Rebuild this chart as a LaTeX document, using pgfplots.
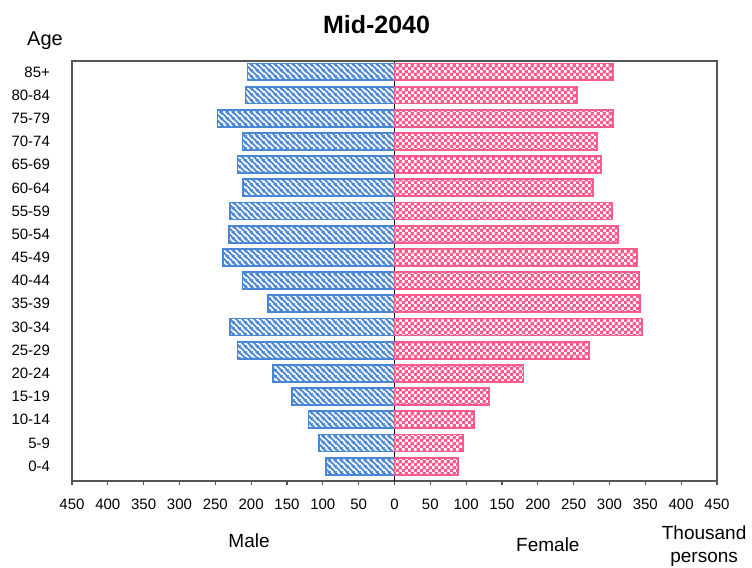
\documentclass[border=0pt]{standalone}
\usepackage{fontspec}
\setmainfont{Liberation Sans}
\usepackage{pgfplots}
\pgfplotsset{compat=1.18}
\usetikzlibrary{patterns}
\definecolor{mblue}{RGB}{74,134,214}
\definecolor{fpink}{RGB}{252,92,140}
\definecolor{axgray}{RGB}{85,85,85}
\pgfdeclarepatternformonly{mystripes}{\pgfqpoint{0pt}{0pt}}{\pgfqpoint{3pt}{3pt}}{\pgfqpoint{3pt}{3pt}}{%
  \pgfsetlinewidth{1.05pt}%
  \pgfpathmoveto{\pgfqpoint{-0.5pt}{3.5pt}}\pgfpathlineto{\pgfqpoint{3.5pt}{-0.5pt}}%
  \pgfpathmoveto{\pgfqpoint{-0.8pt}{0.8pt}}\pgfpathlineto{\pgfqpoint{0.8pt}{-0.8pt}}%
  \pgfpathmoveto{\pgfqpoint{2.2pt}{3.8pt}}\pgfpathlineto{\pgfqpoint{3.8pt}{2.2pt}}%
  \pgfusepath{stroke}}
\pgfdeclarepatternformonly{mychecker}{\pgfqpoint{0pt}{0pt}}{\pgfqpoint{3pt}{3pt}}{\pgfqpoint{3pt}{3pt}}{%
  \pgfpathrectangle{\pgfqpoint{0pt}{0pt}}{\pgfqpoint{1.85pt}{1.85pt}}%
  \pgfpathrectangle{\pgfqpoint{1.5pt}{1.5pt}}{\pgfqpoint{1.85pt}{1.85pt}}%
  \pgfpathrectangle{\pgfqpoint{1.5pt}{-1.5pt}}{\pgfqpoint{0.35pt}{3pt}}%
  \pgfpathrectangle{\pgfqpoint{-1.5pt}{1.5pt}}{\pgfqpoint{3pt}{0.35pt}}%
  \pgfusepath{fill}}
\pgfplotstableread{
y male female
0 -96 89
1 -105 96
2 -120 111
3 -143 132
4 -169 180
5 -219 271
6 -229 345
7 -177 343
8 -212 341
9 -239 338
10 -231 312
11 -229 303
12 -211 277
13 -219 288
14 -212 283
15 -247 305
16 -208 255
17 -205 305
}\pyr
\begin{document}
\begin{tikzpicture}
\begin{axis}[
  scale only axis,
  width=322.5pt, height=210pt,
  xmin=-450, xmax=450,
  ymin=-0.64, ymax=17.47,
  xbar, bar width=0.73, bar shift=0pt,
  axis line style={axgray, line width=0.7pt},
  xtick={-450,-400,...,450},
  xtick pos=bottom,
  xtick align=outside,
  major tick length=2pt,
  tick style={axgray, line width=0.6pt},
  xticklabel={\pgfmathparse{abs(\tick)}\pgfmathprintnumber[assume math mode=true,fixed,precision=0]{\pgfmathresult}},
  xticklabel style={font=\fontsize{7.5}{9}\selectfont, yshift=-3.5pt},
  ytick={0,...,17},
  yticklabels={0-4,5-9,10-14,15-19,20-24,25-29,30-34,35-39,40-44,45-49,50-54,55-59,60-64,65-69,70-74,75-79,80-84,85+},
  ytick style={draw=none},
  yticklabel style={font=\fontsize{7.5}{9}\selectfont, xshift=-5.5pt},
  extra x ticks={0},
  extra x tick labels={},
  extra x tick style={grid=major, major grid style={black, line width=0.7pt}, major tick length=0pt},
  clip=false,
]
\addplot[draw=mblue, line width=0.9pt, pattern=mystripes, pattern color=mblue] table[x=male, y=y] {\pyr};
\addplot[draw=fpink, line width=0.9pt, pattern=mychecker, pattern color=fpink] table[x=female, y=y] {\pyr};
\node[font=\bfseries\fontsize{12.5}{15}\selectfont] at ([shift={(-9pt,18pt)}]rel axis cs:0.5,1) {Mid-2040};
\node[font=\fontsize{10}{12}\selectfont] at ([shift={(-13.5pt,10pt)}]rel axis cs:0,1) {Age};
\node[font=\fontsize{9.5}{11}\selectfont] at ([yshift=-30pt]axis cs:-203,-0.64) {Male};
\node[font=\fontsize{9.5}{11}\selectfont] at ([yshift=-32pt]axis cs:214,-0.64) {Female};
\node[font=\fontsize{9.5}{11.5}\selectfont, align=center, inner sep=0pt] at ([yshift=-32.5pt]axis cs:432,-0.64) {Thousand\\persons};
\end{axis}
\pgfresetboundingbox
\path ([shift={(-36pt,-43pt)}]current axis.south west) rectangle ([shift={(17.5pt,30.5pt)}]current axis.north east);
\end{tikzpicture}
\end{document}
